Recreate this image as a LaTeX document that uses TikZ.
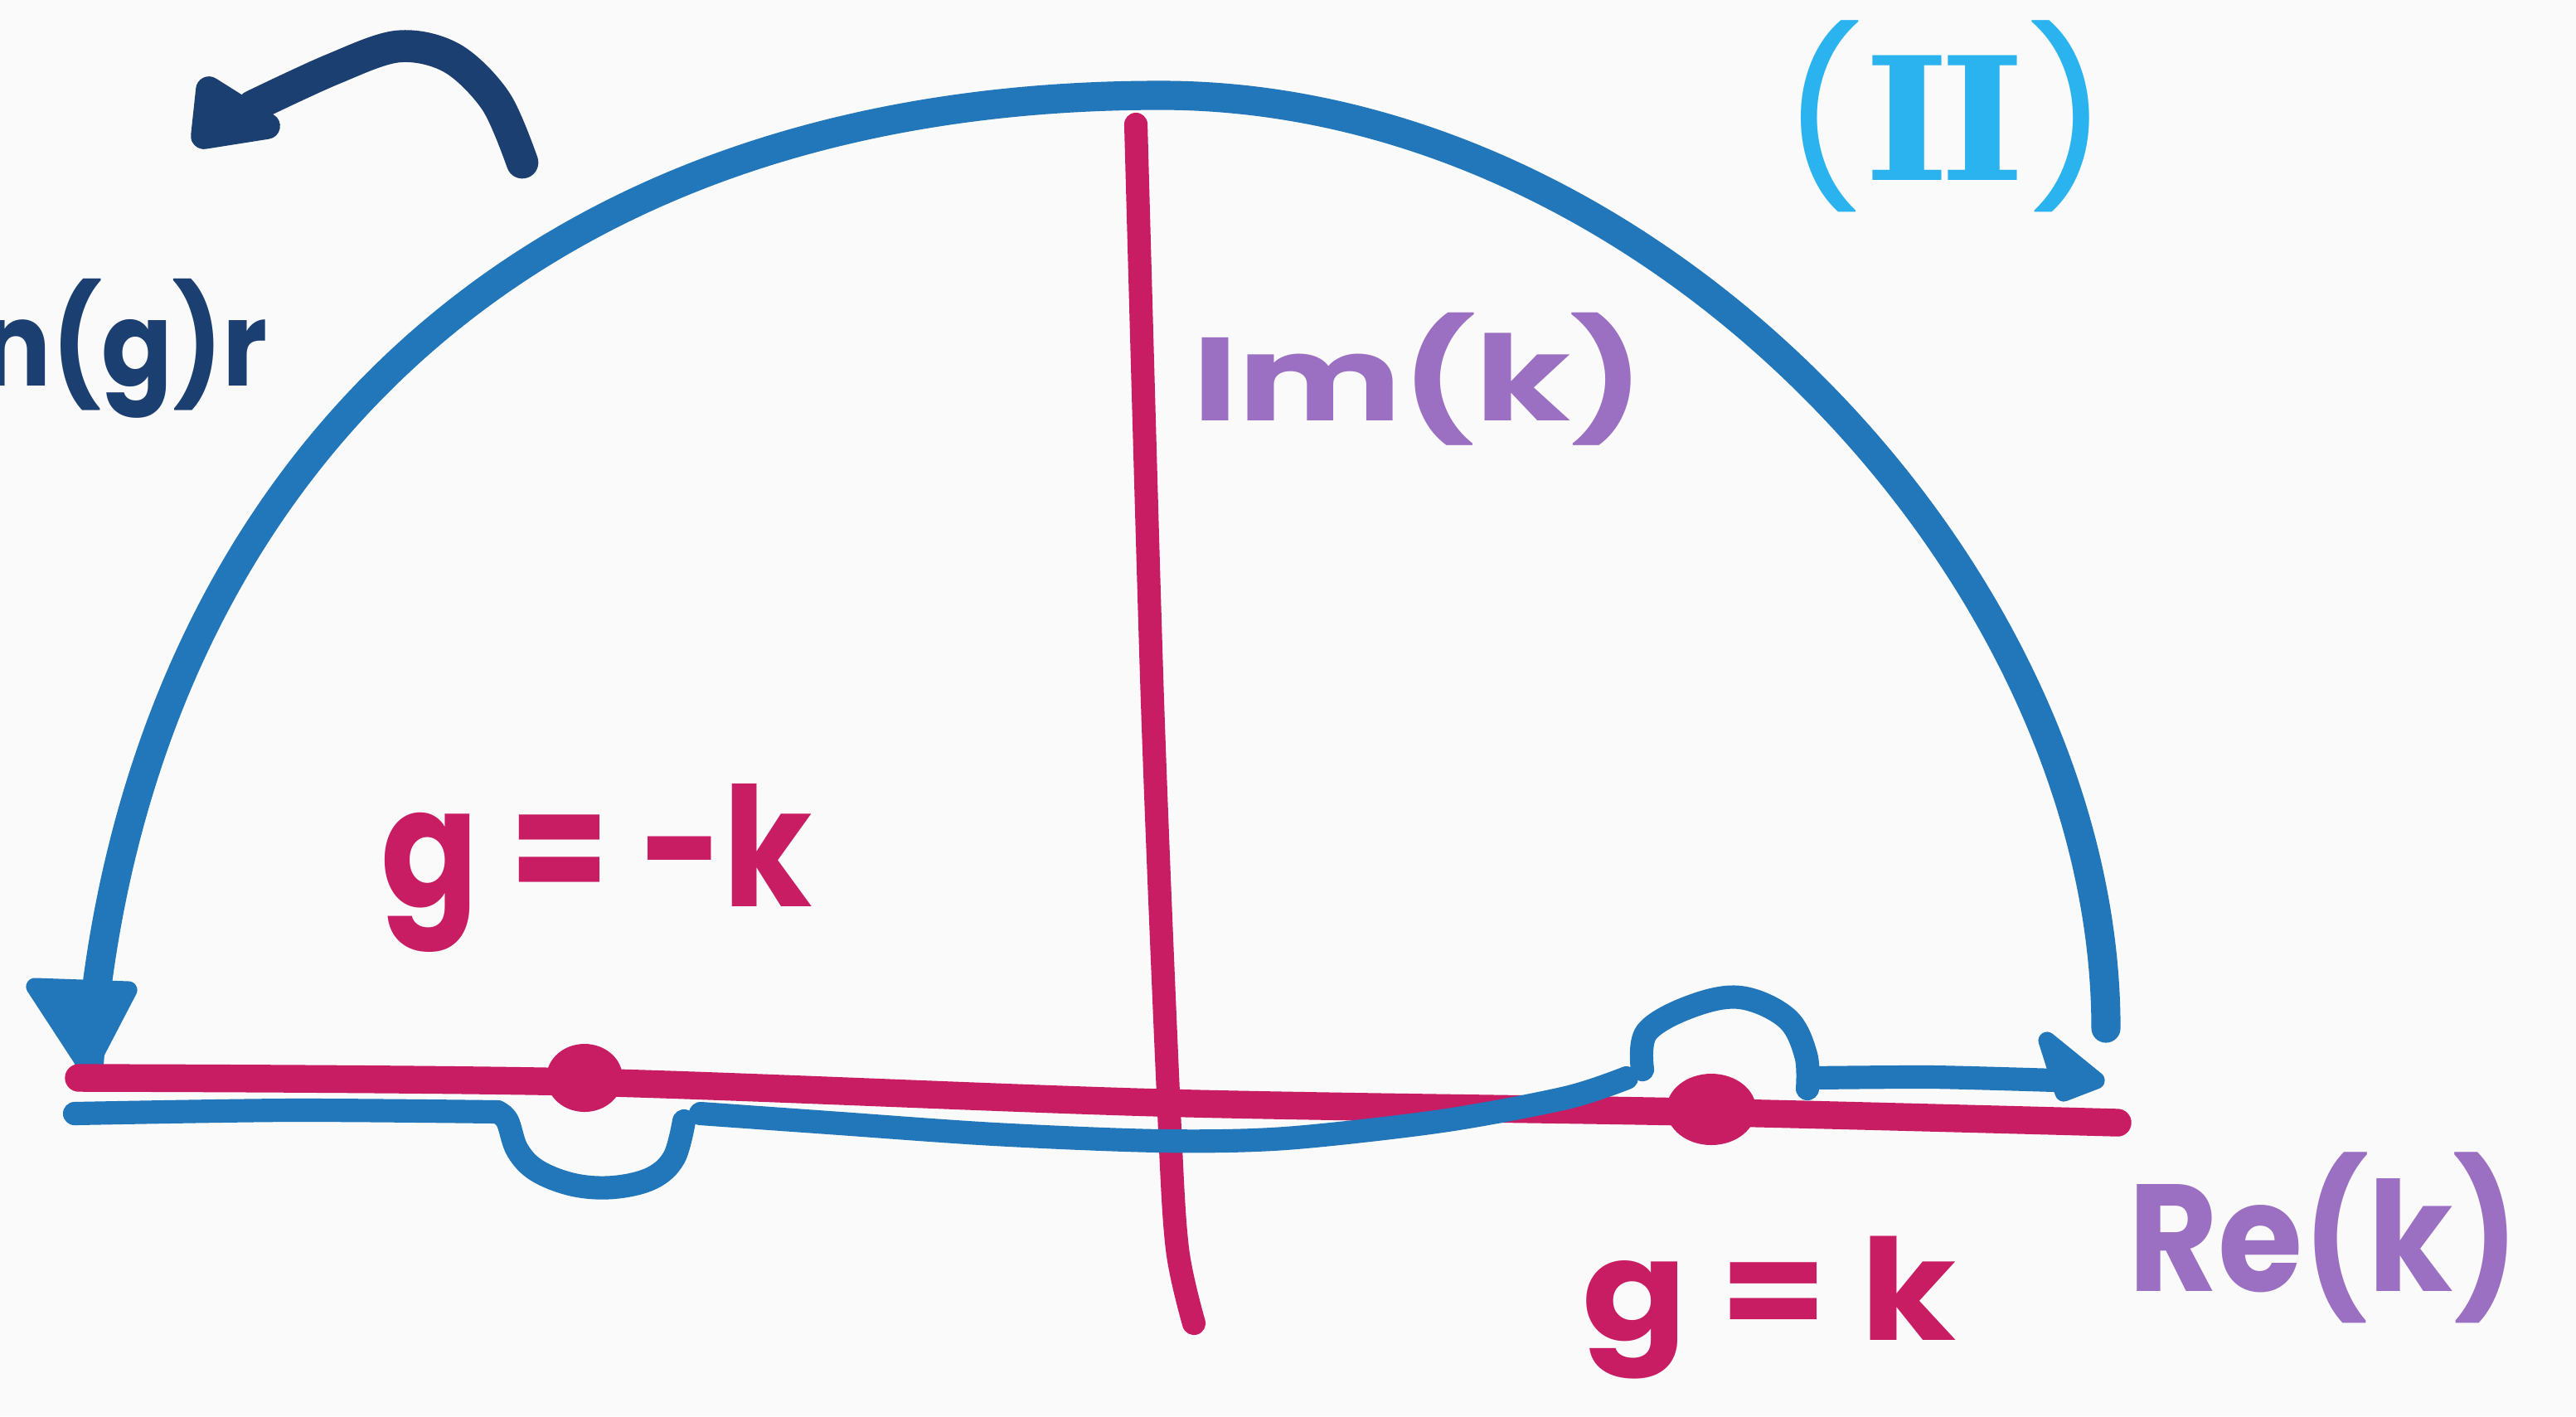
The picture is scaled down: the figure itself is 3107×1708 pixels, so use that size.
\documentclass[tikz,border=0pt]{standalone}
\usepackage{fontspec}
\usepackage{graphicx}
\newfontfamily\hand{Poppins}
\newfontfamily\serifII{DejaVu Serif}
\definecolor{arcblue}{HTML}{2277BB}
\definecolor{axred}{HTML}{C81C63}
\definecolor{lilac}{HTML}{9B6FC2}
\definecolor{skyb}{HTML}{2AB3EE}
\definecolor{inknavy}{HTML}{1C3F72}
\definecolor{paper}{HTML}{FAFAFA}
\begin{document}
\begin{tikzpicture}[x=0.01cm,y=-0.01cm,line cap=round,line join=round,
  bluepen/.style={draw=arcblue,line width=10pt},
  thinblue/.style={draw=arcblue,line width=8pt},
  redpen/.style={draw=axred,line width=9.5pt},
  lab/.style={inner sep=0pt,outer sep=0pt}]
\fill[paper] (0,0) rectangle (3107,1708);
\useasboundingbox (0,0) rectangle (3107,1708);

% big semicircular arc
\coordinate (arcL) at (107,1290);
\coordinate (arcT) at (1400,115);
\coordinate (arcR) at (2540,1240);
\draw[bluepen] (arcR) .. controls (2540,700) and (2000,115) .. (arcT)
               .. controls (560,115) and (150,650) .. (arcL);
% left arrowhead (pointing down)
\filldraw[fill=arcblue,draw=arcblue,line width=6pt] (42,1190) -- (155,1194) -- (106,1288) -- cycle;

% real axis
\draw[redpen] plot[smooth,tension=0.5] coordinates {(95,1300) (700,1305) (1400,1330) (2039,1341) (2554,1354)};
% imaginary axis
\draw[redpen,line width=8pt] plot[smooth,tension=0.5] coordinates {(1370,150) (1390,846) (1410,1341) (1420,1506) (1440,1596)};

% poles
\fill[axred] (705,1300) ellipse [x radius=46,y radius=41];
\fill[axred] (2064,1338) ellipse [x radius=54,y radius=43];

% lower contour with indentation below left pole
\draw[thinblue] plot[smooth,tension=0.5] coordinates {(90,1343) (350,1339) (600,1341)};
\draw[thinblue] plot[smooth,tension=0.6] coordinates {(600,1341) (612,1352) (624,1387) (648,1412) (692,1429) (740,1432) (786,1421) (813,1396) (825,1352)};
\draw[thinblue] plot[smooth,tension=0.5] coordinates {(845,1343) (1000,1354) (1200,1368) (1400,1376) (1550,1373) (1739,1352) (1889,1324) (1962,1300)};
% bump above right pole
\draw[thinblue] plot[smooth,tension=0.6] coordinates {(1981,1290) (1986,1245) (2039,1214) (2099,1203) (2155,1228) (2178,1272) (2180,1313)};
\draw[thinblue] plot[smooth,tension=0.4] coordinates {(2185,1300) (2330,1299) (2480,1303)};
% right arrowhead
\filldraw[fill=arcblue,draw=arcblue,line width=6pt] (2469,1255) -- (2528,1303) -- (2489,1318) -- cycle;

% navy arrow (top left)
\draw[inknavy,line width=11pt] plot[smooth,tension=0.55] coordinates {(630,196) (598,122) (545,70) (480,56) (400,84) (305,128)};
\filldraw[fill=inknavy,draw=inknavy,line width=9pt] (252,108) -- (322,152) -- (246,164) -- cycle;

% labels
\node[lab,text=inknavy] (ngr) at (150,420) {\resizebox*{34.6mm}{16.8mm}{\hand\bfseries n(g)r}};
\node[lab,text=axred] (gmk) at (720,1047) {\resizebox*{52.0mm}{20.3mm}{\hand\bfseries g = -k}};
\node[lab,text=axred] (gk) at (2134,1577) {\resizebox*{45.0mm}{17.2mm}{\hand\bfseries g = k}};
\node[lab,text=lilac] (im) at (1711,457) {\resizebox*{54.5mm}{16.0mm}{\hand\bfseries Im(k)}};
\node[lab,text=lilac] (re) at (2803,1493) {\resizebox*{47.0mm}{20.6mm}{\hand\bfseries Re(k)}};
\node[lab,text=skyb] (two) at (2346,140) {\resizebox*{39.5mm}{23.1mm}{\hand ({\serifII\bfseries I\kern-0.06em I})}};
\end{tikzpicture}
\end{document}
